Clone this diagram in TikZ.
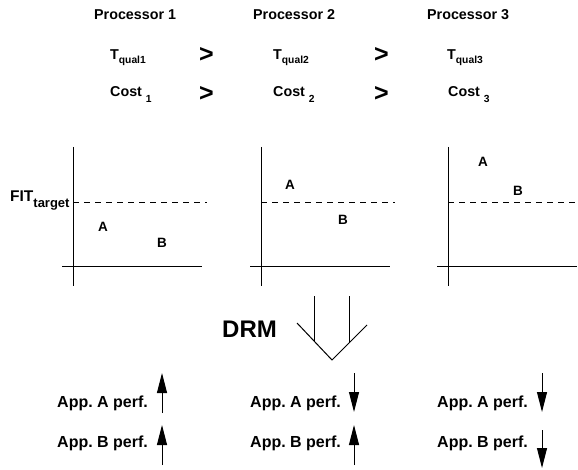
\documentclass[tikz,border=0pt]{standalone}
\usepackage{fontspec}
\setmainfont{Liberation Sans}
\usetikzlibrary{arrows.meta}
\frenchspacing

% lowered small text: #1 drop, #2 size, #3 text
\newcommand{\lowtext}[3]{\raisebox{-#1}{\fontsize{#2}{#2}\selectfont #3}}

\begin{document}
\begin{tikzpicture}[x=1pt,y=1pt,
    head/.style={font=\bfseries\fontsize{14.3}{16}\selectfont,anchor=base west},
    rel/.style={font=\bfseries\fontsize{25}{25}\selectfont},
    ptlbl/.style={font=\bfseries\fontsize{13.5}{14}\selectfont},
    applbl/.style={font=\bfseries\fontsize{16}{18}\selectfont,anchor=west},
    axis/.style={black,line width=1pt},
    perf/.style={black,line width=1pt,-{Triangle[length=20pt,width=10pt]}}]
        \tikzstyle{every node}+=[inner sep=0pt]
        \useasboundingbox (0,0) rectangle (578,-470);
        % processors
        \node[head] (proc1) at (94,-20) {Processor 1};
        \node[head] (proc2) at (253,-20) {Processor 2};
        \node[head] (proc3) at (427,-20) {Processor 3};
        \node[head] (tq1) at (110,-60) {T\lowtext{3.5pt}{10.3}{qual1}};
        \node[head] (tq2) at (273,-60) {T\lowtext{3.5pt}{10.3}{qual2}};
        \node[head] (tq3) at (447,-60) {T\lowtext{3.5pt}{10.3}{qual3}};
        \node[head] (cost1) at (110,-97) {Cost \lowtext{6pt}{10.3}{1}};
        \node[head] (cost2) at (273,-97) {Cost \lowtext{6pt}{10.3}{2}};
        \node[head] (cost3) at (448,-97) {Cost \lowtext{6pt}{10.3}{3}};
        \node[rel] (gt1) at (206.5,-55.5) {>};
        \node[rel] (gt2) at (381.5,-55.5) {>};
        \node[rel] (gt3) at (206.5,-94) {>};
        \node[rel] (gt4) at (381.5,-94) {>};
        % charts
        \foreach \i/\ax in {1/73,2/261,3/448} {
          \coordinate (top\i) at (\ax,-147);
          \coordinate (bot\i) at (\ax,-286);
          \coordinate (left\i) at (\ax-11,-267);
          \coordinate (right\i) at (\ax+129,-267);
          \coordinate (fitl\i) at (\ax,-202);
          \coordinate (fitr\i) at ({min(\ax+134,578)},-202);
          \draw [axis] (top\i) -- (bot\i);
          \draw [axis] (left\i) -- (right\i);
          \draw [black,line width=0.9pt,dash pattern=on 6pt off 5pt] (fitl\i) -- (fitr\i);
        }
        \node[font=\bfseries\fontsize{15.5}{16}\selectfont,anchor=base west] (fit) at (10,-202)
          {FIT\lowtext{6pt}{13}{target}};
        \node[ptlbl] (a1) at (103,-227) {A};
        \node[ptlbl] (b1) at (162,-243) {B};
        \node[ptlbl] (a2) at (290,-185) {A};
        \node[ptlbl] (b2) at (343,-220) {B};
        \node[ptlbl] (a3) at (483,-162) {A};
        \node[ptlbl] (b3) at (518,-191) {B};
        % DRM arrow
        \node[font=\bfseries\fontsize{24}{24}\selectfont,anchor=west] (drm) at (222,-329) {DRM};
        \coordinate (stemlt) at (314,-296);
        \coordinate (stemlb) at (314,-341);
        \coordinate (stemrt) at (349,-296);
        \coordinate (stemrb) at (349,-342);
        \coordinate (wingl) at (297,-323);
        \coordinate (tip) at (332,-360);
        \coordinate (wingr) at (367,-325);
        \draw [black,line width=1pt] (stemlt) -- (stemlb);
        \draw [black,line width=1pt] (stemrt) -- (stemrb);
        \draw [black,line width=1pt] (wingl) -- (tip) -- (wingr);
        % performance
        \node[applbl] (appa1) at (57,-403) {App. A perf.};
        \node[applbl] (appb1) at (57,-443) {App. B perf.};
        \node[applbl] (appa2) at (250,-403) {App. A perf.};
        \node[applbl] (appb2) at (250,-443) {App. B perf.};
        \node[applbl] (appa3) at (437,-403) {App. A perf.};
        \node[applbl] (appb3) at (437,-443) {App. B perf.};
        \draw [perf] (162,-413) -- (162,-373);
        \draw [perf] (162,-465) -- (162,-425);
        \draw [perf] (354,-373) -- (354,-412);
        \draw [perf] (354,-465) -- (354,-425);
        \draw [perf] (542,-373) -- (542,-412);
        \draw [perf] (542,-430) -- (542,-468);
\end{tikzpicture}
\end{document}
